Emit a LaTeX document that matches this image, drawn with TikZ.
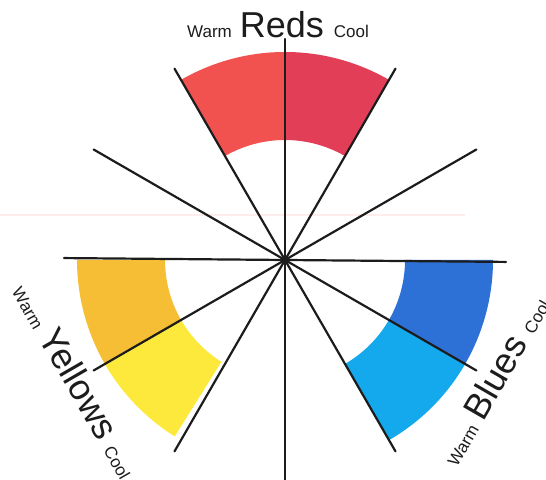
\documentclass[tikz,border=0pt]{standalone}
\usepackage{fontspec}
\setmainfont{Liberation Sans}
\usepackage{xcolor}
\definecolor{redwarm}{RGB}{241,82,80}
\definecolor{redcool}{RGB}{226,62,88}
\definecolor{yelwarm}{RGB}{245,190,52}
\definecolor{yelcool}{RGB}{253,232,60}
\definecolor{bluwarm}{RGB}{20,168,236}
\definecolor{blucool}{RGB}{46,113,214}
\definecolor{ink}{RGB}{28,28,28}

\begin{document}
\begin{tikzpicture}[x=0.5pt, y=0.5pt,
  spoke/.style={ink, line width=1.1pt, line cap=round},
  wheellabel/.style={anchor=base, inner sep=0pt, text=ink}]
  \useasboundingbox (0,0) rectangle (546,480);
  % faint scan line
  \draw[red!7, line width=0.6pt] (0,265) -- (465,265);
  \begin{scope}[shift={(285,220)}]
    % colour bands
    \foreach \s/\e/\col in {60/90/redcool, 90/120/redwarm, 180/210/yelwarm, 210/238/yelcool, 300/330/bluwarm, 330/360/blucool}{
      \fill[\col] (\s:208) arc[start angle=\s, end angle=\e, radius=208]
        -- (\e:120) arc[start angle=\e, end angle=\s, radius=120] -- cycle;
    }
    % spokes
    \foreach \a in {-0.5,30,60,90,120,150}{
      \draw[spoke] (\a:221) -- (\a+180:221);
    }
    \fill[ink] (0,0) circle (4);
    % labels
    \node[wheellabel] at (91.8:223) {\fontsize{8.5}{10}\selectfont Warm\hspace{4pt}{\fontsize{18}{20}\selectfont Reds}\hspace{5pt}Cool};
    \node[wheellabel, rotate=-60] at (210:253) {\fontsize{8.5}{10}\selectfont Warm\hspace{4pt}{\fontsize{18}{20}\selectfont Yellows}\hspace{5pt}Cool};
    \node[wheellabel, rotate=60] at (330:253) {\fontsize{8.5}{10}\selectfont Warm\hspace{4pt}{\fontsize{18}{20}\selectfont Blues}\hspace{5pt}Cool};
  \end{scope}
\end{tikzpicture}
\end{document}
